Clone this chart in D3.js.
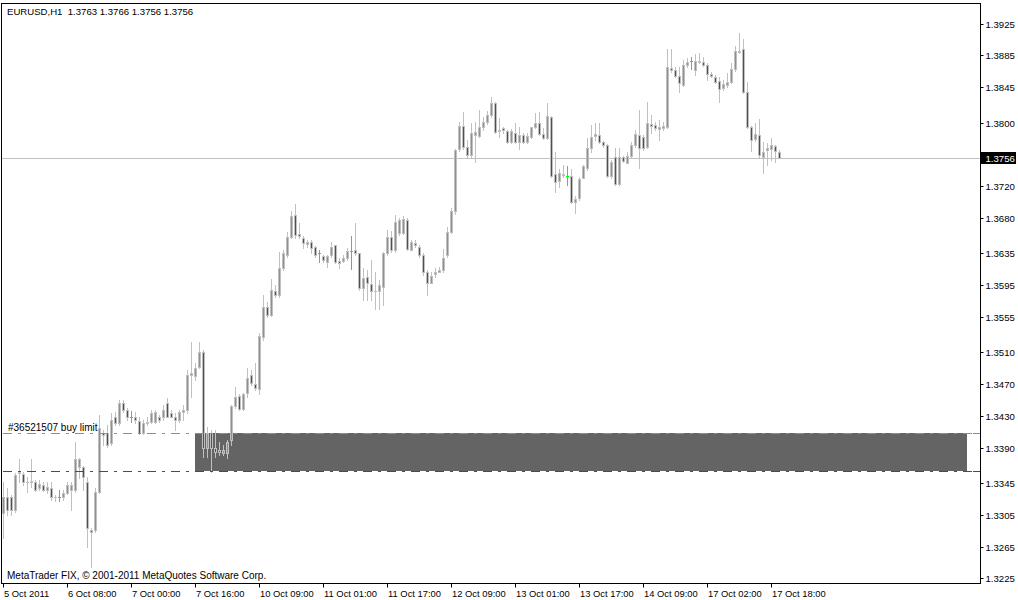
<!DOCTYPE html>
<html><head><meta charset="utf-8">
<script src="https://cdn.jsdelivr.net/npm/d3@7"></script>
<style>
html,body{margin:0;padding:0;background:#fff;}
svg{display:block;}
text{font-family:"Liberation Sans",Arial,sans-serif;}
</style></head><body>
<svg id="c" width="1018" height="600"></svg>
<script>
const headerText = "EURUSD,H1  1.3763 1.3766 1.3756 1.3756";
const footerText = "MetaTrader FIX, \u00A9 2001-2011 MetaQuotes Software Corp.";
const orderLabel = "#36521507 buy limit";

const openP = [1.3308,1.3327,1.3328,1.3311,1.3358,1.3357,1.3347,1.3346,1.3346,1.3339,
1.3343,1.3337,1.3339,1.3327,1.3328,1.3327,1.3333,1.3337,1.3337,1.3366,
1.3366,1.3347,1.3286,1.3286,1.3334,1.3409,1.3409,1.3396,1.3428,1.3421,
1.3446,1.3438,1.3429,1.3429,1.3424,1.3409,1.3421,1.3422,1.3422,1.3428,
1.3428,1.3446,1.3434,1.3429,1.3425,1.3435,1.3438,1.3482,1.3480,1.3492,
1.3511,1.3390,1.3409,1.3390,1.3387,1.3383,1.3383,1.3400,1.3443,1.3455,
1.3439,1.3459,1.3482,1.3470,1.3464,1.3530,1.3568,1.3557,1.3588,1.3583,
1.3617,1.3633,1.3656,1.3684,1.3660,1.3655,1.3647,1.3650,1.3643,1.3635,
1.3632,1.3624,1.3633,1.3646,1.3626,1.3626,1.3629,1.3638,1.3640,1.3636,
1.3592,1.3605,1.3597,1.3588,1.3587,1.3593,1.3636,1.3656,1.3640,1.3661,
1.3661,1.3677,1.3640,1.3648,1.3643,1.3633,1.3611,1.3598,1.3609,1.3612,
1.3614,1.3633,1.3662,1.3688,1.3767,1.3796,1.3770,1.3759,1.3785,1.3783,
1.3794,1.3801,1.3810,1.3825,1.3791,1.3793,1.3790,1.3776,1.3787,1.3776,
1.3785,1.3776,1.3782,1.3795,1.3800,1.3786,1.3781,1.3807,1.3735,1.3727,
1.3735,1.3733,1.3733,1.3700,1.3705,1.3730,1.3743,1.3768,1.3783,1.3785,
1.3776,1.3772,1.3733,1.3757,1.3723,1.3757,1.3749,1.3758,1.3772,1.3785,
1.3782,1.3770,1.3799,1.3797,1.3792,1.3793,1.3795,1.3869,1.3867,1.3859,
1.3848,1.3873,1.3878,1.3867,1.3878,1.3877,1.3873,1.3862,1.3858,1.3853,
1.3844,1.3848,1.3852,1.3868,1.3891,1.3893,1.3839,1.3795,1.3780,1.3785,
1.3757,1.3766,1.3767,1.3771,1.3763];
const highP = [1.3346,1.3339,1.3330,1.3358,1.3375,1.3359,1.3353,1.3375,1.3349,1.3349,
1.3346,1.3346,1.3346,1.3330,1.3337,1.3337,1.3346,1.3346,1.3397,1.3377,
1.3367,1.3353,1.3289,1.3339,1.3431,1.3412,1.3419,1.3434,1.3435,1.3450,
1.3450,1.3440,1.3436,1.3435,1.3428,1.3425,1.3428,1.3438,1.3438,1.3431,
1.3444,1.3453,1.3438,1.3434,1.3438,1.3444,1.3488,1.3523,1.3497,1.3523,
1.3513,1.3416,1.3412,1.3412,1.3397,1.3393,1.3400,1.3444,1.3467,1.3457,
1.3459,1.3491,1.3488,1.3497,1.3535,1.3583,1.3574,1.3603,1.3595,1.3637,
1.3640,1.3662,1.3689,1.3698,1.3674,1.3657,1.3652,1.3652,1.3645,1.3640,
1.3633,1.3633,1.3650,1.3646,1.3629,1.3633,1.3642,1.3657,1.3674,1.3636,
1.3617,1.3614,1.3627,1.3612,1.3602,1.3637,1.3665,1.3663,1.3684,1.3680,
1.3682,1.3680,1.3652,1.3652,1.3646,1.3636,1.3614,1.3611,1.3617,1.3618,
1.3641,1.3669,1.3693,1.3767,1.3801,1.3814,1.3778,1.3800,1.3801,1.3816,
1.3807,1.3815,1.3833,1.3826,1.3806,1.3794,1.3791,1.3792,1.3800,1.3795,
1.3787,1.3787,1.3795,1.3812,1.3814,1.3793,1.3825,1.3809,1.3763,1.3742,
1.3747,1.3746,1.3742,1.3708,1.3732,1.3747,1.3781,1.3797,1.3800,1.3800,
1.3777,1.3773,1.3753,1.3768,1.3768,1.3758,1.3763,1.3776,1.3791,1.3816,
1.3784,1.3826,1.3810,1.3801,1.3804,1.3801,1.3893,1.3893,1.3870,1.3870,
1.3879,1.3882,1.3883,1.3887,1.3888,1.3883,1.3876,1.3864,1.3860,1.3858,
1.3854,1.3863,1.3875,1.3897,1.3913,1.3906,1.3852,1.3796,1.3800,1.3805,
1.3776,1.3775,1.3781,1.3772,1.3766];
const lowP = [1.3276,1.3305,1.3305,1.3309,1.3346,1.3343,1.3334,1.3340,1.3335,1.3337,
1.3335,1.3333,1.3324,1.3322,1.3322,1.3324,1.3332,1.3311,1.3334,1.3352,
1.3337,1.3265,1.3239,1.3284,1.3333,1.3393,1.3391,1.3393,1.3419,1.3419,
1.3435,1.3425,1.3422,1.3421,1.3407,1.3407,1.3419,1.3421,1.3421,1.3422,
1.3425,1.3428,1.3428,1.3412,1.3422,1.3425,1.3434,1.3454,1.3475,1.3491,
1.3378,1.3378,1.3359,1.3378,1.3381,1.3381,1.3377,1.3393,1.3440,1.3438,
1.3438,1.3454,1.3469,1.3463,1.3457,1.3526,1.3555,1.3556,1.3580,1.3580,
1.3614,1.3631,1.3655,1.3655,1.3655,1.3642,1.3643,1.3636,1.3631,1.3624,
1.3624,1.3618,1.3631,1.3623,1.3617,1.3624,1.3627,1.3616,1.3633,1.3589,
1.3576,1.3576,1.3576,1.3565,1.3565,1.3570,1.3633,1.3637,1.3637,1.3658,
1.3660,1.3640,1.3640,1.3643,1.3631,1.3608,1.3583,1.3598,1.3605,1.3611,
1.3612,1.3631,1.3661,1.3685,1.3764,1.3767,1.3757,1.3757,1.3751,1.3782,
1.3791,1.3799,1.3807,1.3787,1.3782,1.3787,1.3774,1.3775,1.3774,1.3767,
1.3774,1.3774,1.3781,1.3793,1.3785,1.3780,1.3780,1.3732,1.3713,1.3719,
1.3732,1.3722,1.3699,1.3686,1.3703,1.3730,1.3740,1.3763,1.3778,1.3774,
1.3770,1.3732,1.3730,1.3722,1.3722,1.3751,1.3749,1.3757,1.3770,1.3743,
1.3766,1.3768,1.3787,1.3791,1.3778,1.3791,1.3793,1.3864,1.3858,1.3839,
1.3846,1.3870,1.3868,1.3860,1.3875,1.3872,1.3854,1.3858,1.3850,1.3826,
1.3841,1.3845,1.3850,1.3865,1.3888,1.3838,1.3793,1.3764,1.3777,1.3756,
1.3737,1.3747,1.3753,1.3751,1.3756];
const closeP = [1.3327,1.3311,1.3311,1.3356,1.3359,1.3346,1.3346,1.3348,1.3337,1.3344,
1.3337,1.3340,1.3327,1.3328,1.3328,1.3333,1.3343,1.3343,1.3375,1.3375,
1.3353,1.3289,1.3284,1.3334,1.3415,1.3406,1.3393,1.3425,1.3421,1.3446,
1.3438,1.3428,1.3429,1.3425,1.3409,1.3421,1.3422,1.3434,1.3435,1.3425,
1.3438,1.3429,1.3429,1.3425,1.3435,1.3438,1.3482,1.3484,1.3491,1.3510,
1.3390,1.3409,1.3390,1.3385,1.3385,1.3387,1.3397,1.3443,1.3454,1.3439,
1.3457,1.3478,1.3472,1.3465,1.3531,1.3568,1.3557,1.3589,1.3583,1.3617,
1.3635,1.3656,1.3682,1.3658,1.3657,1.3648,1.3650,1.3642,1.3633,1.3635,
1.3627,1.3632,1.3643,1.3624,1.3623,1.3629,1.3638,1.3638,1.3636,1.3592,
1.3604,1.3598,1.3588,1.3587,1.3595,1.3636,1.3656,1.3640,1.3675,1.3677,
1.3679,1.3641,1.3650,1.3646,1.3633,1.3611,1.3598,1.3607,1.3612,1.3614,
1.3629,1.3662,1.3688,1.3766,1.3796,1.3770,1.3759,1.3787,1.3788,1.3795,
1.3801,1.3810,1.3825,1.3788,1.3790,1.3791,1.3776,1.3790,1.3776,1.3785,
1.3776,1.3783,1.3795,1.3800,1.3786,1.3781,1.3809,1.3733,1.3725,1.3737,
1.3734,1.3733,1.3700,1.3704,1.3729,1.3746,1.3768,1.3782,1.3786,1.3776,
1.3772,1.3733,1.3751,1.3723,1.3757,1.3752,1.3758,1.3772,1.3786,1.3768,
1.3768,1.3800,1.3796,1.3793,1.3795,1.3796,1.3870,1.3867,1.3859,1.3850,
1.3873,1.3877,1.3878,1.3878,1.3877,1.3873,1.3862,1.3859,1.3852,1.3843,
1.3849,1.3852,1.3868,1.3891,1.3889,1.3839,1.3795,1.3778,1.3786,1.3759,
1.3763,1.3768,1.3772,1.3764,1.3756];

const priceTicks = [1.3925,1.3885,1.3845,1.3800,1.3720,1.3680,1.3635,1.3595,1.3555,
1.3510,1.3470,1.3430,1.3390,1.3345,1.3305,1.3265,1.3225];
const timeTickBars = [0,16,32,48,64,80,96,112,128,144,160,176,192];
const timeTickLabels = ["5 Oct 2011","6 Oct 08:00","7 Oct 00:00","7 Oct 16:00","10 Oct 09:00",
"11 Oct 01:00","11 Oct 17:00","12 Oct 09:00","13 Oct 01:00","13 Oct 17:00","14 Oct 09:00",
"17 Oct 02:00","17 Oct 18:00"];
const bidPrice = 1.3756;
const buyLimitPrice = 1.3408;
const stopLossPrice = 1.3360;
const rectBars = [48, 241];
const rectPrices = [1.3408, 1.3360];

const svg = d3.select("#c");
const W = 1018, H = 600;
const frame = {l: 1, t: 3, r: 980, b: 583};

const x = d3.scaleLinear().domain([0, openP.length - 1]).range([3.5, 779.5]);
const y = d3.scaleLinear().domain([1.3225, 1.3925]).range([578.3, 23.7]);
const yr = p => Math.round(y(p));
const xc = i => Math.round(x(i) - 0.5);

svg.append("rect").attr("width", W).attr("height", H).attr("fill", "#fff");

// rectangle object (background)
svg.append("rect")
  .attr("x", xc(rectBars[0])).attr("y", yr(rectPrices[0]))
  .attr("width", xc(rectBars[1]) - xc(rectBars[0]))
  .attr("height", yr(rectPrices[1]) - yr(rectPrices[0]))
  .attr("fill", "#646464");

// bid line
svg.append("rect")
  .attr("x", frame.l).attr("width", frame.r - frame.l)
  .attr("y", yr(bidPrice)).attr("height", 1)
  .attr("fill", "#c0c0c0");

// candles
const bars = d3.range(openP.length).map(i => ({i, o: openP[i], h: highP[i], l: lowP[i], c: closeP[i]}));
const outline = "#c0c0c0";
const g = svg.append("g").attr("shape-rendering", "crispEdges");
bars.forEach(d => {
  const col = xc(d.i);
  const yh = yr(d.h), yl = yr(d.l);
  const doji = d.o === d.c;
  const wickColor = doji ? "#00ff00" : outline;
  g.append("rect").attr("x", col).attr("y", yh).attr("width", 1).attr("height", yl - yh + 1).attr("fill", wickColor);
  if (doji) {
    g.append("rect").attr("x", col - 1).attr("y", yr(d.o)).attr("width", 3).attr("height", 1).attr("fill", "#00ff00");
    return;
  }
  const yt = yr(Math.max(d.o, d.c)), yb = yr(Math.min(d.o, d.c));
  g.append("rect").attr("x", col - 1).attr("y", yt).attr("width", 3).attr("height", yb - yt + 1).attr("fill", outline);
  if (yb - yt >= 2) {
    g.append("rect").attr("x", col).attr("y", yt + 1).attr("width", 1).attr("height", yb - yt - 1)
      .attr("fill", d.c > d.o ? "#6495ed" : "#505050");
  }
});

// order lines (dash-dot)
function dashLine(p, color) {
  svg.append("line").attr("x1", frame.l + 2).attr("x2", 973)
    .attr("y1", yr(p) + 0.5).attr("y2", yr(p) + 0.5)
    .attr("stroke", color).attr("stroke-width", 1).attr("stroke-dasharray", "9,6,3,6");
}
dashLine(buyLimitPrice, "#32cd32");
dashLine(stopLossPrice, "#ff0000");

svg.append("text").attr("x", 8).attr("y", yr(buyLimitPrice) - 2)
  .attr("font-size", "10px").attr("fill", "#000").text(orderLabel);

// frame
svg.append("rect").attr("x", frame.l + 0.5).attr("y", frame.t + 0.5)
  .attr("width", frame.r - frame.l).attr("height", frame.b - frame.t)
  .attr("fill", "none").attr("stroke", "#000").attr("stroke-width", 1);

// right axis
const yAx = y.copy().interpolate(d3.interpolateRound);
const ra = svg.append("g").attr("transform", `translate(${frame.r + 0.5},0)`)
  .call(d3.axisRight(yAx).tickValues(priceTicks).tickSize(3).tickPadding(2).tickFormat(d3.format(".4f")));
ra.select(".domain").remove();
ra.attr("font-family", null).attr("font-size", null);
ra.selectAll("text").attr("font-size", "9.6px").attr("fill", "#000");
ra.selectAll("line").attr("stroke", "#000");

// bid price box
const by = yr(bidPrice);
svg.append("rect").attr("x", 981).attr("y", by - 6).attr("width", 35).attr("height", 12).attr("fill", "#000");
svg.append("text").attr("x", 985.5).attr("y", by + 0.5).attr("dy", "0.32em")
  .attr("font-size", "9.6px").attr("fill", "#fff").text(d3.format(".4f")(bidPrice));

// order markers on axis edge
svg.append("rect").attr("x", 973).attr("width", 7).attr("y", yr(buyLimitPrice)).attr("height", 1).attr("fill", "#32cd32");
svg.append("rect").attr("x", 973).attr("width", 7).attr("y", yr(stopLossPrice)).attr("height", 1).attr("fill", "#ff0000");

// bottom axis
const ba = svg.append("g").attr("transform", `translate(0,${frame.b + 0.5})`)
  .call(d3.axisBottom(x).tickValues(timeTickBars).tickSize(4).tickPadding(3).offset(0)
    .tickFormat((d, i) => timeTickLabels[i]));
ba.select(".domain").remove();
ba.attr("font-family", null).attr("font-size", null);
ba.selectAll("text").attr("font-size", "9.4px").attr("fill", "#000").attr("text-anchor", "start").attr("x", 0.5);
ba.selectAll("line").attr("stroke", "#000");

// header & footer
svg.append("text").attr("x", 7).attr("y", 15).attr("font-size", "9.6px").attr("fill", "#000")
  .attr("xml:space", "preserve").style("white-space", "pre").text(headerText);
svg.append("text").attr("x", 7).attr("y", 579).attr("font-size", "10px").attr("fill", "#000").text(footerText);
</script>
</body></html>
